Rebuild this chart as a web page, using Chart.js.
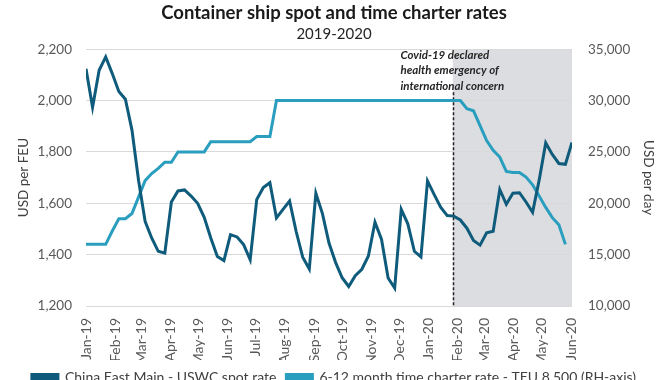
<!DOCTYPE html>
<html><head><meta charset="utf-8">
<script src="https://cdn.jsdelivr.net/npm/chart.js@4.4.1/dist/chart.umd.min.js"></script>
<style>
html,body{margin:0;padding:0;background:#fff;overflow:hidden;width:670px;height:380px}
#wrap{width:670px;height:394px;position:relative}
</style></head>
<body><div id="wrap"><canvas id="c" width="670" height="394"></canvas></div>
<script>
// ---- data ----
const firstWeek = [2019, 0, 4];          // first weekly observation (Fri 4 Jan 2019)
const monthLabels = ['Jan-19','Feb-19','Mar-19','Apr-19','May-19','Jun-19','Jul-19','Aug-19','Sep-19','Oct-19','Nov-19','Dec-19','Jan-20','Feb-20','Mar-20','Apr-20','May-20','Jun-20'];
const spotRate = [2124,1974,2118,2170,2105,2035,2005,1885,1690,1530,1465,1413,1406,1605,1648,1652,1628,1600,1545,1465,
  1393,1377,1478,1469,1439,1380,1615,1661,1680,1543,1576,1609,1490,1390,1344,1639,1560,1445,1370,1310,
  1276,1318,1343,1395,1526,1459,1309,1270,1576,1520,1413,1391,1687,1635,1585,1552,1550,1535,1503,1455,
  1437,1485,1491,1654,1596,1639,1641,1605,1565,1690,1835,1790,1755,1752,1837];
const charterRate = [16000,16000,16000,16000,17300,18500,18500,19000,20600,22200,22900,23400,24000,24000,
  25000,25000,25000,25000,25000,26000,26000,26000,26000,26000,26000,26000,26500,26500,26500,
  30000,30000,30000,30000,30000,30000,30000,30000,30000,30000,30000,30000,30000,30000,30000,30000,30000,30000,30000,30000,30000,30000,30000,30000,30000,30000,30000,30000,30000,
  29200,29000,27550,26100,25150,24500,23100,23000,23000,22550,21800,20700,19600,18600,17900,16000,null];
const leftTicks = [1200,1400,1600,1800,2000,2200];
const rightTicks = [10000,15000,20000,25000,30000,35000];
const covidDate = [2020, 0, 30];
const covidNote = ['Covid-19 declared','health emergency of','international concern'];
const seriesNames = ['China East Main - USWC spot rate','6-12 month time charter rate - TEU 8,500 (RH-axis)'];

// ---- helpers ----
const DAY = 86400000;
const t0 = Date.UTC(firstWeek[0], firstWeek[1], firstWeek[2]);
const dayOf = (y,m,d) => (Date.UTC(y,m,d) - t0) / DAY;
const tickDays = monthLabels.map((l,i) => dayOf(firstWeek[0], firstWeek[1] + i, firstWeek[2]));
const covidDay = dayOf(covidDate[0], covidDate[1], covidDate[2]);
const lastDay = (spotRate.length - 1) * 7;
const FONT = 'Lato';
const fmt = v => Number(v).toLocaleString('en-US');

const covidPlugin = {
  id: 'covid',
  beforeDraw(chart) {
    const {ctx, chartArea, scales} = chart;
    const x = scales.x.getPixelForValue(covidDay);
    ctx.save();
    ctx.fillStyle = '#dcdde0';
    ctx.fillRect(x, chartArea.top, chartArea.right - x, chartArea.bottom - chartArea.top);
    ctx.restore();
  },
  beforeDatasetsDraw(chart) {
    const {ctx, chartArea, scales} = chart;
    const x = Math.round(scales.x.getPixelForValue(covidDay)) + 0.5;
    ctx.save();
    ctx.strokeStyle = '#222';
    ctx.lineWidth = 1.5;
    ctx.setLineDash([3, 2]);
    ctx.beginPath();
    ctx.moveTo(x, chartArea.top + 43);
    ctx.lineTo(x, chartArea.bottom);
    ctx.stroke();
    ctx.setLineDash([]);
    ctx.fillStyle = '#262626';
    ctx.font = 'italic bold 11.5px ' + FONT;
    ctx.textAlign = 'left';
    ctx.textBaseline = 'middle';
    covidNote.forEach((t, i) => ctx.fillText(t, x - 53, chartArea.top + 6 + i * 15.5));
    ctx.restore();
  }
};

new Chart(document.getElementById('c'), {
  type: 'line',
  data: {
    datasets: [
      { label: seriesNames[0], data: spotRate.map((v,i) => ({x: i*7, y: v})), yAxisID: 'y',
        borderColor: '#0f5b7b', backgroundColor: '#0f5b7b', borderWidth: 3, pointRadius: 0, tension: 0, order: 1 },
      { label: seriesNames[1], data: charterRate.map((v,i) => ({x: i*7, y: v})), yAxisID: 'y1',
        borderColor: '#2a9ebe', backgroundColor: '#2a9ebe', borderWidth: 3, pointRadius: 0, tension: 0, order: 2 }
    ]
  },
  options: {
    responsive: false, animation: false, events: [],
    layout: { padding: { left: 10, right: 12, top: 0, bottom: 0 } },
    plugins: {
      title: { display: true, text: 'Container ship spot and time charter rates', color: '#1a1a1a',
        font: { family: FONT, size: 18.5, weight: 'bold' }, padding: { top: 2, bottom: 1 } },
      subtitle: { display: true, text: '2019-2020', color: '#262626',
        font: { family: FONT, size: 15 }, padding: { top: 0, bottom: 6 } },
      legend: { position: 'bottom',
        labels: { boxWidth: 26, boxHeight: 5, color: '#404040', font: { family: FONT, size: 14 }, padding: 10 } },
      tooltip: { enabled: false }
    },
    scales: {
      x: { type: 'linear', min: 0, max: lastDay,
        afterBuildTicks: s => { s.ticks = tickDays.map(v => ({ value: v })); },
        afterFit: s => { s.height = 54; },
        ticks: { autoSkip: false, minRotation: 90, maxRotation: 90, padding: 4, color: '#595959',
          font: { family: FONT, size: 14 }, callback: (v, i) => monthLabels[i] },
        grid: { display: false }, border: { display: false } },
      y: { position: 'left', min: 1200, max: 2200,
        afterBuildTicks: s => { s.ticks = leftTicks.map(v => ({ value: v })); },
        afterFit: s => { s.width = 76; },
        ticks: { padding: 14, color: '#595959', font: { family: FONT, size: 13.5 }, callback: v => fmt(v) },
        grid: { color: '#d9d9d9', lineWidth: 1, drawTicks: false }, border: { display: false },
        title: { display: true, text: 'USD per FEU', color: '#404040', font: { family: FONT, size: 13.5 }, padding: { top: 6, bottom: 0 } } },
      y1: { position: 'right', min: 10000, max: 35000,
        afterBuildTicks: s => { s.ticks = rightTicks.map(v => ({ value: v })); },
        afterFit: s => { s.width = 86; },
        ticks: { padding: 16, color: '#595959', font: { family: FONT, size: 13.5 }, callback: v => fmt(v) },
        grid: { display: false, drawTicks: false }, border: { display: false },
        title: { display: true, text: 'USD per day', color: '#404040', font: { family: FONT, size: 13.5 }, padding: { top: 2, bottom: 0 } } }
    }
  },
  plugins: [covidPlugin]
});
</script></body></html>
